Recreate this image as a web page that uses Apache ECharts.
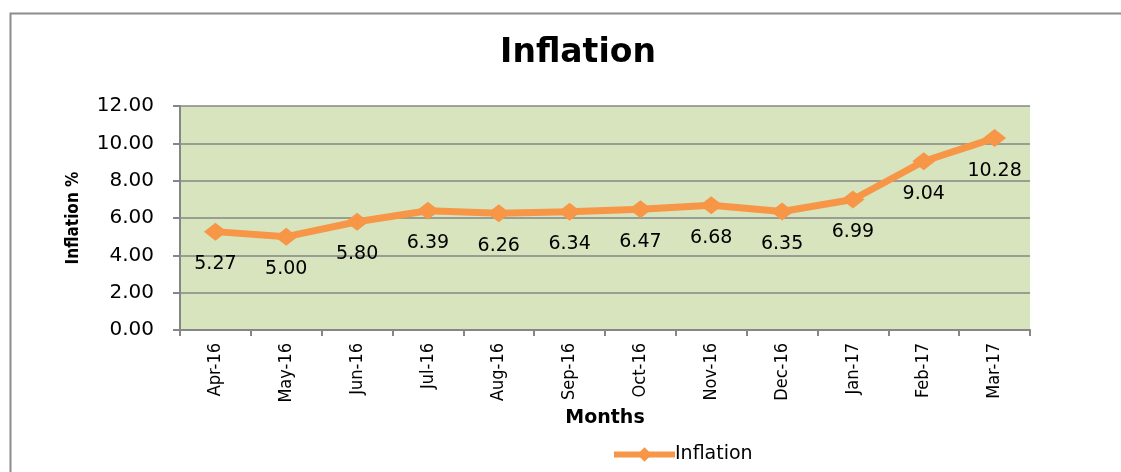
<!DOCTYPE html>
<html>
<head>
<meta charset="utf-8">
<script src="https://cdn.jsdelivr.net/npm/echarts@6/dist/echarts.min.js"></script>
<style>
  html, body { margin: 0; padding: 0; background: #fff; }
  #chart { width: 1121px; height: 472px; }
</style>
</head>
<body>
<div id="chart"></div>
<script>
// data
const months = ['Apr-16', 'May-16', 'Jun-16', 'Jul-16', 'Aug-16', 'Sep-16',
  'Oct-16', 'Nov-16', 'Dec-16', 'Jan-17', 'Feb-17', 'Mar-17'];
const inflation = [5.27, 5.00, 5.80, 6.39, 6.26, 6.34, 6.47, 6.68, 6.35, 6.99, 9.04, 10.28];

const chart = echarts.init(document.getElementById('chart'), null, {renderer: 'canvas'});

const narrow = "'Liberation Sans Narrow', 'DejaVu Sans Condensed', 'Arial Narrow', sans-serif";
const wide = "'DejaVu Sans', Verdana, sans-serif";

chart.setOption({
  animation: false,
  graphic: [{
    // outer chart border
    type: 'rect',
    shape: {x: 10.5, y: 13.5, width: 1130, height: 480},
    style: {fill: 'none', stroke: '#8c8c8c', lineWidth: 2},
    silent: true
  }],
  title: {
    text: 'Inflation',
    left: 573,
    top: 32,
    textAlign: 'center',
    textStyle: {fontFamily: wide, fontSize: 33, fontWeight: 'bold', color: '#000'}
  },
  legend: {
    data: ['Inflation'],
    left: 606,
    top: 440,
    itemWidth: 61,
    itemHeight: 18,
    itemGap: 4,
    lineStyle: {width: 6},
    textStyle: {fontFamily: wide, fontSize: 19, color: '#000', padding: [0, 0, 0, -5]}
  },
  grid: {
    left: 180,
    right: 91,
    top: 106,
    bottom: 142,
    show: true,
    backgroundColor: '#d7e4bd',
    borderWidth: 0
  },
  xAxis: {
    type: 'category',
    data: months,
    boundaryGap: true,
    name: 'Months',
    nameLocation: 'middle',
    nameGap: 79,
    nameTextStyle: {fontFamily: wide, fontSize: 19, fontWeight: 'bold', color: '#000'},
    axisLine: {lineStyle: {color: '#868686', width: 2}},
    axisTick: {show: true, length: 6, lineStyle: {color: '#868686', width: 2}},
    axisLabel: {
      rotate: 90,
      margin: 13,
      fontFamily: narrow,
      fontSize: 18,
      color: '#000'
    },
    splitLine: {show: false}
  },
  yAxis: {
    type: 'value',
    min: 0,
    max: 12,
    interval: 2,
    name: 'Inflation %',
    nameLocation: 'middle',
    nameGap: 98,
    nameRotate: 90,
    nameTextStyle: {fontFamily: narrow, fontSize: 17, fontWeight: 'bold', color: '#000'},
    axisLine: {show: true, lineStyle: {color: '#868686', width: 2}},
    axisTick: {show: true, length: 7, lineStyle: {color: '#868686', width: 2}},
    axisLabel: {
      margin: 26,
      fontFamily: wide,
      fontSize: 20,
      color: '#000',
      formatter: v => v.toFixed(2)
    },
    splitLine: {lineStyle: {color: '#868686', width: 1.5}}
  },
  series: [{
    name: 'Inflation',
    type: 'line',
    data: inflation,
    symbol: 'diamond',
    symbolSize: [23, 18],
    itemStyle: {color: '#f79646'},
    lineStyle: {color: '#f79646', width: 7},
    label: {
      show: true,
      position: 'bottom',
      distance: 14,
      fontFamily: wide,
      fontSize: 19,
      color: '#000',
      formatter: p => p.value.toFixed(2)
    }
  }]
});
</script>
</body>
</html>
